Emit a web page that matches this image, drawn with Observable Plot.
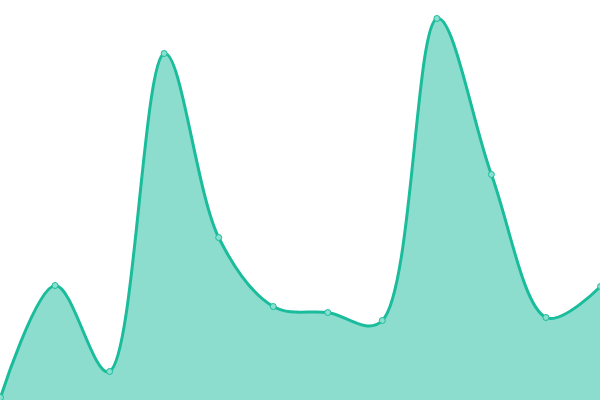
<!DOCTYPE html>
<html><head><meta charset="utf-8">
<script src="https://cdn.jsdelivr.net/npm/d3@7"></script>
<script src="https://cdn.jsdelivr.net/npm/@observablehq/plot@0.6"></script>
<style>body{margin:0;background:#fff}</style>
</head><body>
<div id="chart"></div>
<script>
const idx = [0,1,2,3,4,5,6,7,8,9,10,11];
const values = [3,115,29,347,163,94,88,80,382,226,83,114];
const data = idx.map((i,k)=>({i, v: values[k]}));
const color = "#1abc9c";
const chart = Plot.plot({
  width: 600, height: 400,
  margin: 0,
  x: {domain: [0, 11], axis: null},
  y: {domain: [0, 400], axis: null},
  marks: [
    Plot.areaY(data, {x: "i", y: "v", curve: "catmull-rom", tension: 0.4, fill: color, fillOpacity: 0.5}),
    Plot.lineY(data, {x: "i", y: "v", curve: "catmull-rom", tension: 0.4, stroke: color, strokeWidth: 3}),
    Plot.dot(data, {x: "i", y: "v", r: 3, fill: "#8ae0cf", stroke: color, strokeWidth: 1})
  ]
});
document.getElementById("chart").appendChild(chart);
</script>
</body></html>
